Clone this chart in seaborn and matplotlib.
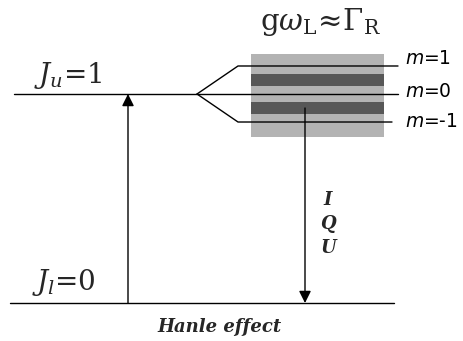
import matplotlib
matplotlib.use("Agg")
import matplotlib.pyplot as plt
from matplotlib.patches import Rectangle, FancyArrowPatch
import numpy as np
import pandas as pd
import seaborn as sns

# Atomic levels (energy in units of the upper-level height)
level_energy = [0.0, 1.0]
level_labels = ["$J_l$=0", "$J_u$=1"]

# Zeeman sublevels of the upper level
m_values = [1, 0, -1]
m_labels = ["$m$=1", "$m$=0", "$m$=-1"]
zeeman_split = 0.134          # energy shift per unit of m
band_halfwidth = 0.027        # half-height of the dark coherence bands
shade_extent = [0.794, 1.191] # vertical extent of the shaded region

stokes_labels = ["I", "Q", "U"]
title_text = r"$\mathrm{g}\omega_{\mathrm{L}}\!\approx\!\Gamma_{\mathrm{R}}$"
caption_text = "Hanle effect"

sns.set_theme(style="white")
plt.rcParams["font.family"] = ["DejaVu Sans"]
plt.rcParams["mathtext.fontset"] = "dejavusans"

fig = plt.figure(figsize=(4.63, 3.41), dpi=100)
ax = fig.add_axes([0, 0, 1, 1])
ax.set_xlim(0, 463)
ax.set_ylim(-(341 - 303) / 209, 303 / 209)
ax.axis("off")

E_low, E_up = level_energy
split_x, fan_x, end_x = 197, 238, 398

# level lines as polylines
rows = []
rows += [("low", 10, E_low), ("low", 394, E_low)]
rows += [("up", 14, E_up), ("up", end_x, E_up)]
for m in m_values:
    if m == 0:
        continue
    e = E_up + m * zeeman_split
    xe = end_x if m > 0 else 392
    rows += [(f"m{m}", split_x, E_up), (f"m{m}", fan_x, e), (f"m{m}", xe, e)]
df = pd.DataFrame(rows, columns=["seg", "x", "E"])
sns.lineplot(data=df, x="x", y="E", units="seg", estimator=None, sort=False,
             color="black", lw=1.0, ax=ax, zorder=3, legend=False)

# shaded region and coherence bands
ax.add_patch(Rectangle((251, shade_extent[0]), 133, shade_extent[1] - shade_extent[0],
                       facecolor="#b3b3b3", edgecolor="none", zorder=1))
band_centers = [E_up + (m_values[i] + m_values[i + 1]) / 2 * zeeman_split
                for i in range(len(m_values) - 1)]
for c in band_centers:
    ax.add_patch(Rectangle((251, c - band_halfwidth), 133, 2 * band_halfwidth,
                           facecolor="#575757", edgecolor="none", zorder=2))

# sublevel labels
m_label_y = [1.144, 0.986, 0.842]
for lab, y in zip(m_labels, m_label_y):
    ax.text(405, y, lab, fontsize=13.5, ha="left", va="baseline", color="black")

# J labels
ax.text(34, 1.0 + 0.053, level_labels[1], fontsize=20, family="DejaVu Serif",
        math_fontfamily="dejavuserif", ha="left", va="baseline")
ax.text(32, 0.0 + 0.062, level_labels[0], fontsize=20, family="DejaVu Serif",
        math_fontfamily="dejavuserif", ha="left", va="baseline")

# absorption and emission arrows
style = "-|>,head_length=0.6,head_width=0.3"
ax.add_patch(FancyArrowPatch((128, E_low), (128, E_up), arrowstyle=style,
                             mutation_scale=12, color="black", lw=1.0,
                             shrinkA=0, shrinkB=0, zorder=4))
ax.add_patch(FancyArrowPatch((305, band_centers[-1]), (305, E_low), arrowstyle=style,
                             mutation_scale=12, color="black", lw=1.0,
                             shrinkA=0, shrinkB=0, zorder=4))

# Stokes parameters
for i, s in enumerate(stokes_labels):
    ax.text(328, (303 - (200 + i * 24)) / 209, s, fontsize=13, family="DejaVu Serif",
            fontweight="bold", fontstyle="italic", ha="center", va="center")

ax.text(321, (303 - 22) / 209, title_text, fontsize=21, math_fontfamily="dejavuserif",
        ha="center", va="center")
ax.text(220, (303 - 327) / 209, caption_text, fontsize=13, family="DejaVu Serif",
        fontweight="bold", fontstyle="italic", ha="center", va="center")

fig.savefig("out.png", dpi=100)
